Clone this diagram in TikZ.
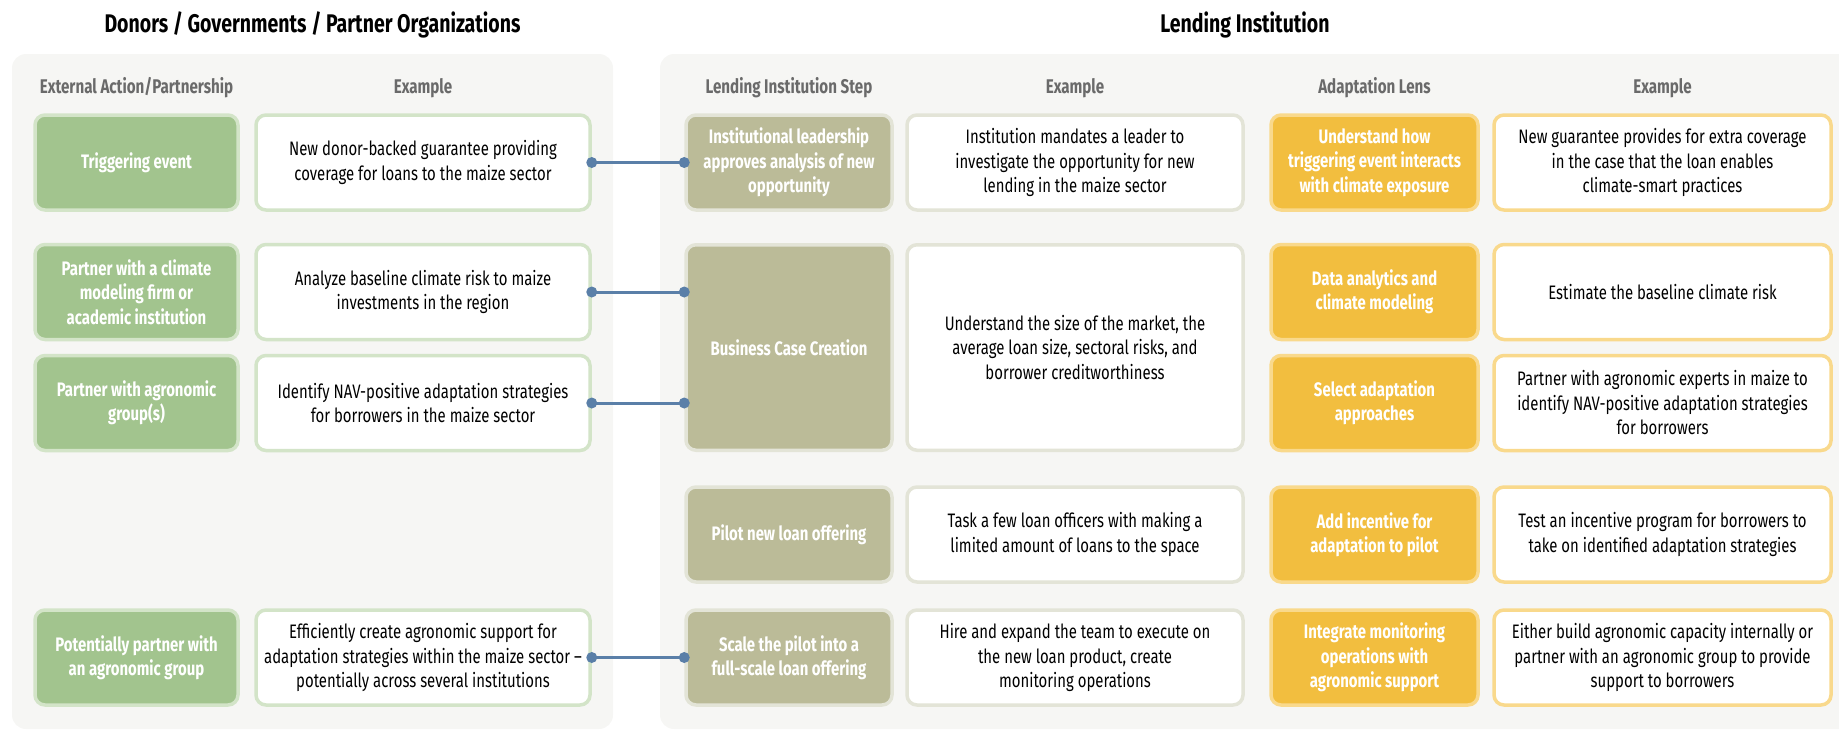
\documentclass[tikz,border=0pt]{standalone}
\usepackage{fontspec}
\setmainfont[FakeStretch=0.765]{Fira Sans}
\usepackage{tikz}

\definecolor{panelbg}{HTML}{F6F6F4}
\definecolor{grn}{HTML}{A2C48E}
\definecolor{grnl}{HTML}{D3E4C8}
\definecolor{olv}{HTML}{BBBB98}
\definecolor{olvl}{HTML}{E3E4D7}
\definecolor{ylw}{HTML}{F2BE3F}
\definecolor{ylwl}{HTML}{F9D98C}
\definecolor{lnkblue}{HTML}{5A7FA8}
\definecolor{hdgray}{HTML}{6A6A6A}

\newcommand\bodytxt{\fontsize{19.5}{24.5}\selectfont}
\newcommand\hdtxt{\fontsize{19.8}{23}\selectfont\bfseries}
\newcommand\ttltxt{\fontsize{25.5}{29}\selectfont\bfseries}

\tikzset{
  box/.style={rounded corners=10pt, line width=3.5pt, align=center,
    inner sep=0pt, minimum height=95pt},
  gbox/.style={box, fill=grn, draw=grnl, text=white, font=\bodytxt\bfseries, minimum width=203pt},
  obox/.style={box, fill=olv, draw=olvl, text=white, font=\bodytxt\bfseries, minimum width=206pt},
  ybox/.style={box, fill=ylw, draw=ylwl, text=white, font=\bodytxt\bfseries, minimum width=207pt},
  gtxt/.style={box, fill=white, draw=grnl, font=\bodytxt, minimum width=334pt},
  otxt/.style={box, fill=white, draw=olvl, font=\bodytxt, minimum width=336pt},
  ytxt/.style={box, fill=white, draw=ylwl, font=\bodytxt, minimum width=337pt},
  colhd/.style={text=hdgray, font=\hdtxt},
  lnk/.style={draw=lnkblue, line width=3pt},
  dot/.style={fill=lnkblue}
}

\begin{document}
\begin{tikzpicture}[x=1pt,y=-1pt]
  \useasboundingbox (0,0) rectangle (1839,731);
  \fill[panelbg, rounded corners=14pt] (12,54) rectangle (613,729);
  \fill[panelbg, rounded corners=14pt] (660,54) rectangle (1860,729);

  \node[font=\ttltxt] at (312.5,25) (t1) {Donors / Governments / Partner Organizations};
  \node[font=\ttltxt] at (1245,25) (t2) {Lending Institution};

  \node[colhd] at (136.5,88) (h1) {External Action/Partnership};
  \node[colhd] at (423,88) (h2) {Example};
  \node[colhd] at (789,88) (h3) {Lending Institution Step};
  \node[colhd] at (1075,88) (h4) {Example};
  \node[colhd] at (1374.5,88) (h5) {Adaptation Lens};
  \node[colhd] at (1662.5,88) (h6) {Example};

  \node[gbox] at (136.5,162.5) (g1) {Triggering event};
  \node[gtxt] at (423,162.5) (wl1) {New donor-backed guarantee providing\\coverage for loans to the maize sector};
  \node[obox] at (789,162.5) (o1) {Institutional leadership\\approves analysis of new\\opportunity};
  \node[otxt] at (1075,162.5) (wm1) {Institution mandates a leader to\\investigate the opportunity for new\\lending in the maize sector};
  \node[ybox] at (1374.5,162.5) (y1) {Understand how\\triggering event interacts\\with climate exposure};
  \node[ytxt] at (1662.5,162.5) (wr1) {New guarantee provides for extra coverage\\in the case that the loan enables\\climate-smart practices};

  \node[gbox] at (136.5,292) (g2) {Partner with a climate\\modeling firm or\\academic institution};
  \node[gtxt] at (423,292) (wl2) {Analyze baseline climate risk to maize\\investments in the region};
  \node[ybox] at (1374.5,292) (y2) {Data analytics and\\climate modeling};
  \node[ytxt] at (1662.5,292) (wr2) {Estimate the baseline climate risk};

  \node[gbox] at (136.5,403) (g3) {Partner with agronomic\\group(s)};
  \node[gtxt] at (423,403) (wl3) {Identify NAV-positive adaptation strategies\\for borrowers in the maize sector};
  \node[ybox] at (1374.5,403) (y3) {Select adaptation\\approaches};
  \node[ytxt] at (1662.5,403) (wr3) {Partner with agronomic experts in maize to\\identify NAV-positive adaptation strategies\\for borrowers};

  \node[obox, minimum height=205.5pt] at (789,347.5) (bc) {Business Case Creation};
  \node[otxt, minimum height=205.5pt] at (1075,347.5) (wm2) {Understand the size of the market, the\\average loan size, sectoral risks, and\\borrower creditworthiness};

  \node[obox] at (789,534.5) (o4) {Pilot new loan offering};
  \node[otxt] at (1075,534.5) (wm4) {Task a few loan officers with making a\\limited amount of loans to the space};
  \node[ybox] at (1374.5,534.5) (y4) {Add incentive for\\adaptation to pilot};
  \node[ytxt] at (1662.5,534.5) (wr4) {Test an incentive program for borrowers to\\take on identified adaptation strategies};

  \node[gbox] at (136.5,657.5) (g5) {Potentially partner with\\an agronomic group};
  \node[gtxt] at (423,657.5) (wl5) {Efficiently create agronomic support for\\adaptation strategies within the maize sector –\\potentially across several institutions};
  \node[obox] at (789,657.5) (o5) {Scale the pilot into a\\full-scale loan offering};
  \node[otxt] at (1075,657.5) (wm5) {Hire and expand the team to execute on\\the new loan product, create\\monitoring operations};
  \node[ybox] at (1374.5,657.5) (y5) {Integrate monitoring\\operations with\\agronomic support};
  \node[ytxt] at (1662.5,657.5) (wr5) {Either build agronomic capacity internally or\\partner with an agronomic group to provide\\support to borrowers};

  \draw[lnk] (wl1.east) -- (o1.west);
  \draw[lnk] (wl2.east) -- (wl2.east -| bc.west);
  \draw[lnk] (wl3.east) -- (wl3.east -| bc.west);
  \draw[lnk] (wl5.east) -- (o5.west);
  \fill[dot] (wl1.east) circle (5.5pt) (o1.west) circle (5.5pt);
  \fill[dot] (wl2.east) circle (5.5pt) (wl2.east -| bc.west) circle (5.5pt);
  \fill[dot] (wl3.east) circle (5.5pt) (wl3.east -| bc.west) circle (5.5pt);
  \fill[dot] (wl5.east) circle (5.5pt) (o5.west) circle (5.5pt);
\end{tikzpicture}
\end{document}
